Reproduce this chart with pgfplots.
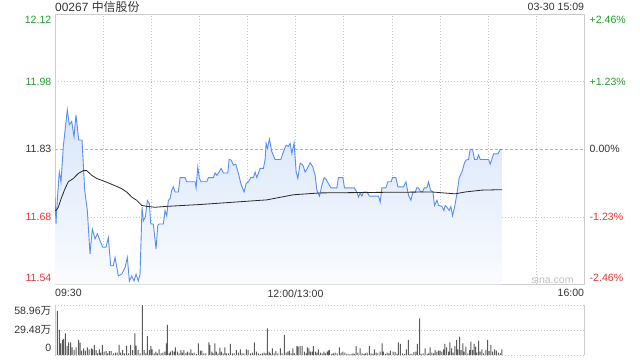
\documentclass[border=0pt]{standalone}
\usepackage{pgfplots}
\pgfplotsset{compat=1.18}
\usepackage{pgfplotstable}
\usepackage{fontspec}
\setmainfont{Liberation Sans}
\newfontfamily\cjk{Noto Sans CJK SC}
\definecolor{cGreen}{RGB}{30,160,40}
\definecolor{cRed}{RGB}{235,50,50}
\definecolor{cText}{RGB}{51,51,51}
\definecolor{cLine}{RGB}{88,143,240}
\definecolor{cAvg}{RGB}{40,40,40}
\definecolor{cGrid}{RGB}{200,200,200}
\definecolor{cFrame}{RGB}{205,205,205}
\definecolor{cVol}{RGB}{90,90,90}
\definecolor{cFillTop}{RGB}{216,229,250}
\definecolor{cFillBot}{RGB}{250,252,255}
\newcommand\lf{\fontsize{10.6}{12}\selectfont}

\pgfplotstableread{
m p
0 11.727
0.62 11.669
1.43 11.720
2.68 11.781
3.74 11.760
5.18 11.836
7.67 11.915
8.92 11.883
10.42 11.890
11.85 11.857
13.10 11.904
14.78 11.850
16.84 11.850
18.53 11.742
20.15 11.698
21.83 11.604
23.27 11.658
24.95 11.637
26.39 11.648
28.07 11.633
29.76 11.619
31.81 11.619
33.25 11.640
34.75 11.579
36.37 11.579
37.43 11.597
39.49 11.557
41.61 11.561
43.67 11.575
45.10 11.597
46.35 11.546
47.85 11.557
49.28 11.546
50.53 11.561
51.96 11.546
53.02 11.561
54.27 11.705
55.08 11.676
56.33 11.684
57.58 11.720
58.83 11.713
59.70 11.669
61.32 11.669
63.00 11.615
64.07 11.666
64.88 11.669
67.56 11.669
68.62 11.698
69.68 11.687
70.68 11.720
71.74 11.724
72.80 11.742
73.80 11.749
74.86 11.738
76.91 11.738
77.98 11.769
81.09 11.769
82.15 11.760
87.33 11.760
87.95 11.747
89.02 11.792
90.02 11.767
91.08 11.760
94.63 11.760
95.63 11.769
98.75 11.769
99.81 11.779
100.87 11.774
102.31 11.781
103.56 11.789
104.99 11.779
107.73 11.779
108.55 11.808
109.79 11.807
111.23 11.796
112.73 11.798
114.35 11.778
115.85 11.756
116.85 11.747
117.91 11.738
119.15 11.756
120.59 11.760
122.08 11.769
123.71 11.769
124.76 11.781
125.82 11.769
127.88 11.789
129.94 11.789
131.00 11.808
131.62 11.843
132.43 11.832
133.68 11.852
135.18 11.825
137.24 11.808
140.79 11.808
142.41 11.825
144.10 11.839
145.53 11.836
146.59 11.843
147.66 11.821
149.09 11.844
150.34 11.781
151.40 11.767
152.84 11.800
154.52 11.796
155.95 11.781
157.39 11.789
159.07 11.801
160.75 11.792
162.19 11.774
163.25 11.742
164.87 11.729
166.37 11.752
167.80 11.769
169.05 11.765
170.49 11.756
171.98 11.747
175.73 11.747
176.72 11.769
179.47 11.769
180.47 11.747
186.52 11.747
188.20 11.738
189.20 11.727
190.26 11.736
191.32 11.729
192.32 11.738
194.44 11.738
196.06 11.729
201.68 11.729
202.74 11.716
203.80 11.747
206.29 11.747
207.54 11.760
209.60 11.760
210.41 11.769
212.53 11.769
213.78 11.749
217.27 11.749
218.77 11.760
220.39 11.731
221.89 11.720
223.14 11.738
224.57 11.738
225.63 11.747
226.63 11.747
227.69 11.740
229.13 11.738
230.19 11.747
231.87 11.747
232.87 11.760
234.12 11.742
235.62 11.738
236.62 11.709
238.11 11.720
239.11 11.709
241.23 11.707
242.48 11.698
243.29 11.709
244.35 11.705
245.78 11.698
246.85 11.707
247.84 11.687
249.09 11.705
250.59 11.734
252.02 11.769
253.71 11.781
255.33 11.801
256.39 11.807
257.82 11.808
258.88 11.830
260.32 11.830
261.56 11.808
263.06 11.808
264.06 11.818
265.12 11.808
270.30 11.808
271.36 11.798
273.42 11.820
276.16 11.820
277.60 11.830
278.66 11.830
}\pricetab

\pgfplotstableread{
m p
0 11.698
0.62 11.698
2.06 11.705
4.18 11.727
6.24 11.745
8.30 11.760
11.42 11.767
14.53 11.778
17.65 11.784
19.77 11.784
22.89 11.774
26.01 11.767
30.13 11.762
34.31 11.756
38.49 11.750
41.61 11.745
44.73 11.738
47.85 11.727
50.97 11.720
54.08 11.709
57.20 11.707
62.38 11.705
69.68 11.707
90.45 11.711
132.06 11.721
148.65 11.732
165.31 11.736
196.50 11.737
234.99 11.738
249.52 11.734
255.76 11.738
266.18 11.742
278.66 11.743
}\avgtab

\pgfplotstableread{
m v
0 43.2
1.43 51.9
2.68 29.5
3.56 13.8
4.55 17.7
5.43 18.9
6.43 25.6
7.49 10.6
8.55 15.0
9.79 15.0
10.60 9.0
11.85 5.9
13.10 9.0
14.78 17.7
15.60 14.5
16.66 5.1
17.90 7.9
18.90 5.1
20.15 9.0
21.21 6.7
22.64 7.9
23.52 6.7
24.52 11.8
25.58 5.9
26.64 2.0
27.63 6.7
28.51 2.7
29.51 11.8
30.57 3.9
31.81 4.7
32.87 2.0
33.87 4.7
34.93 4.7
36.37 2.0
37.62 2.7
38.68 2.7
39.92 11.8
40.98 2.7
42.23 5.9
43.23 2.0
44.73 11.0
45.97 2.0
47.22 11.8
48.47 5.9
49.72 25.6
50.53 11.0
51.78 5.9
53.02 2.0
54.46 58.96
55.52 5.9
56.58 2.0
57.58 22.4
58.83 5.9
59.70 10.6
60.51 6.7
61.76 2.0
62.82 3.9
63.82 2.0
64.88 6.7
66.12 2.0
67.18 2.7
68.43 3.9
69.43 13.8
70.05 35.4
71.11 2.0
71.92 3.9
73.17 5.1
74.23 3.9
75.04 9.0
76.29 3.9
77.35 2.0
78.41 5.9
79.41 2.7
80.28 5.9
81.53 2.0
82.53 3.9
83.59 2.7
84.65 6.7
85.65 2.0
86.71 2.7
88.14 1.2
89.39 13.8
90.64 5.1
91.51 5.1
92.76 2.0
94.01 2.0
95.88 14.9
96.51 11.8
97.75 3.9
98.56 2.0
99.62 13.8
100.62 3.9
101.68 2.0
102.74 8.6
103.74 3.9
104.80 2.0
105.86 9.0
106.86 2.0
108.10 2.0
109.35 13.0
110.60 2.0
111.66 2.0
113.10 5.9
114.34 2.7
115.59 6.7
116.65 2.0
117.71 2.0
119.33 6.7
120.39 5.9
121.83 2.0
123.08 2.7
124.32 14.9
125.57 3.9
126.82 2.0
128.07 1.2
129.32 2.0
130.37 2.7
131.43 2.0
132.43 31.4
133.49 3.9
134.30 2.0
135.55 7.9
136.61 2.0
137.67 4.7
138.92 2.0
140.54 7.9
141.60 2.0
143.04 23.6
144.10 2.7
145.16 3.9
146.16 5.1
147.22 2.0
148.28 7.9
149.27 2.0
150.77 10.6
151.58 9.8
152.83 10.6
154.08 10.6
155.51 3.9
156.57 2.0
157.39 9.0
158.26 7.9
159.26 3.9
160.32 3.9
161.13 10.6
162.38 3.9
163.25 2.7
164.25 6.7
165.49 2.7
166.55 2.0
167.61 3.9
168.61 2.0
169.67 3.9
170.49 5.1
171.11 5.9
172.61 1.2
173.60 2.0
174.66 2.7
175.91 2.0
177.35 9.0
178.41 2.7
179.47 3.9
180.71 2.7
181.96 1.2
183.21 1.2
184.64 1.2
185.70 2.0
186.70 1.2
187.76 10.6
188.82 2.7
190.26 7.9
191.51 2.0
192.57 1.2
193.57 2.0
194.63 2.7
196.06 10.6
197.12 2.0
198.18 1.2
199.18 6.7
200.24 2.7
201.30 2.0
202.74 3.9
203.98 13.8
204.80 3.9
206.04 1.2
207.10 2.7
208.16 2.0
209.16 5.1
210.84 3.9
212.09 3.4
213.15 1.2
214.15 14.9
215.40 13.0
216.65 2.0
217.90 1.2
219.14 6.7
220.39 17.7
221.45 1.2
222.51 1.2
223.76 3.4
225.00 3.9
226.00 13.0
227.25 43.2
228.31 1.2
229.56 2.0
230.81 7.9
232.05 1.2
232.87 2.0
233.93 9.0
234.99 2.7
235.99 2.0
237.04 5.9
238.10 3.9
239.10 5.1
240.16 5.1
241.22 3.9
242.22 6.7
243.10 13.0
244.10 9.0
245.35 3.9
246.22 14.9
247.22 7.9
248.28 2.7
249.34 10.6
250.33 17.7
251.21 6.7
252.21 21.6
253.26 5.9
254.32 13.8
255.13 3.9
256.19 9.8
257.44 2.0
258.44 5.9
259.31 15.7
260.31 5.9
261.37 13.0
262.18 9.8
263.06 2.7
264.06 16.9
265.12 3.9
266.18 6.7
267.17 2.0
268.67 5.9
269.67 17.7
270.73 4.7
271.79 11.8
272.79 3.9
274.04 6.7
275.10 5.1
276.35 2.7
277.60 2.0
278.66 6.7
}\voltab

\begin{document}
\begin{tikzpicture}[x=1bp,y=1bp]
\path[use as bounding box] (0,0) rectangle (640,360);

% ---------------- price panel ----------------
\begin{axis}[
  at={(55bp,75.7bp)}, anchor=south west,
  scale only axis, width=529.3bp, height=270bp,
  xmin=0, xmax=330, ymin=11.539, ymax=12.121,
  xtick={30,60,...,300}, xticklabels={},
  ytick={11.6845,11.9755}, yticklabels={},
  extra y ticks={11.83}, extra y tick labels={},
  extra y tick style={grid style={color=cGrid!90!black, dash pattern=on 3bp off 2bp, line width=0.6bp}},
  major tick length=0pt,
  xmajorgrids, ymajorgrids,
  grid style={color=cGrid, dash pattern=on 1bp off 2bp, line width=0.6bp},
  axis line style={color=cFrame, line width=0.8bp},
]
\addplot[draw=none, top color=cFillTop, bottom color=cFillBot, forget plot]
  table[x=m,y=p]{\pricetab} -- (axis cs:278.66,11.539) -- (axis cs:0,11.539) -- cycle;
\addplot[color=cLine, line width=0.9bp, mark=none] table[x=m,y=p]{\pricetab};
\addplot[color=cAvg, line width=0.8bp, mark=none] table[x=m,y=p]{\avgtab};
\end{axis}

% ---------------- volume panel ----------------
\begin{axis}[
  at={(55bp,5bp)}, anchor=south west,
  scale only axis, width=529.3bp, height=50bp,
  xmin=0, xmax=330, ymin=0, ymax=58.96,
  xtick=\empty, ytick={0,29.48,58.96}, yticklabels={},
  major tick length=0pt,
  ymajorgrids,
  grid style={color=cGrid, dash pattern=on 1bp off 2bp, line width=0.6bp},
  axis line style={draw=none},
]
\addplot[ybar, bar width=1bp, fill=cVol, draw=none] table[x=m,y=v]{\voltab};
\end{axis}
\draw[cFrame, line width=0.8bp] (55,5) -- (55,55);
\draw[cFrame, line width=0.8bp] (584.3,5) -- (584.3,55);

% ---------------- texts ----------------
\begin{scope}[every node/.style={inner sep=0pt, font=\lf}]
\node[anchor=west, text=cText, font=\fontsize{12}{14}\selectfont] at (55,353) {00267 {\cjk 中信股份}};
\node[anchor=east, text=cText] at (584.3,352.7) {03-30 15:09};

\node[anchor=east, text=cGreen] at (51.5,340) {12.12};
\node[anchor=east, text=cGreen] at (51.5,277.7) {11.98};
\node[anchor=east, text=cText]  at (51.5,210.7) {11.83};
\node[anchor=east, text=cRed]   at (51.5,143.2) {11.68};
\node[anchor=east, text=cRed]   at (51.5,81.7) {11.54};

\node[anchor=west, text=cGreen] at (589.5,340) {+2.46\%};
\node[anchor=west, text=cGreen] at (589.5,277.7) {+1.23\%};
\node[anchor=west, text=cText]  at (589.5,210.7) {0.00\%};
\node[anchor=west, text=cRed]   at (589.5,143.2) {-1.23\%};
\node[anchor=west, text=cRed]   at (589.5,81.7) {-2.46\%};

\node[anchor=west, text=cText] at (55,66.7) {09:30};
\node[text=cText] at (295.5,66.7) {12:00/13:00};
\node[anchor=east, text=cText] at (584.3,66.7) {16:00};

\node[text=black!25] at (552.5,80.7) {sina.com};

\node[anchor=east, text=cText] at (51.5,49) {58.96{\cjk 万}};
\node[anchor=east, text=cText] at (51.5,30) {29.48{\cjk 万}};
\node[anchor=east, text=cText] at (51.5,11.7) {0};
\end{scope}
\end{tikzpicture}
\end{document}
